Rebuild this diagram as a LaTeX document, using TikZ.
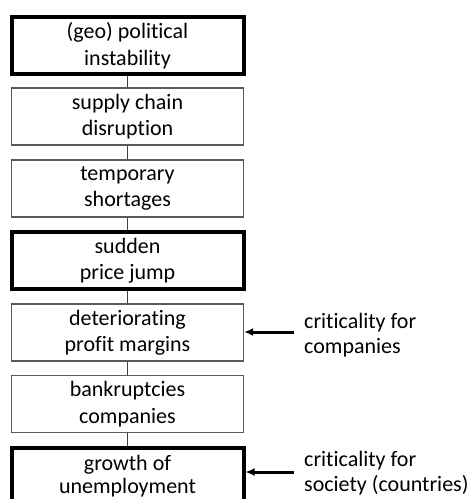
\documentclass[tikz,border=0pt]{standalone}
\usepackage{fontspec}
\setmainfont{Carlito}[Ligatures=NoCommon]
\usepackage{tikz}
\usetikzlibrary{arrows.meta}

\definecolor{boxgray}{HTML}{5A5A5A}
\definecolor{linkgray}{HTML}{404040}

\begin{document}
\begin{tikzpicture}[x=1pt, y=-1pt,
	every node/.style={font=\fontsize{22}{26.5}\selectfont},
	step box/.style={shape=rectangle, draw=boxgray, line width=1.3pt, align=center,
		minimum width=232pt, minimum height=57pt, inner sep=0pt},
	key box/.style={step box, draw=black, line width=4pt},
	link/.style={-, draw=linkgray, line width=1.8pt},
	crit arrow/.style={-{Latex[length=9pt,width=8pt]}, draw=black, line width=3pt},
	crit text/.style={anchor=west, align=left, inner sep=0pt,
		font=\fontsize{22}{25}\selectfont}]
	
	\clip (0, 0) rectangle (471, 499);
	
	\node[key box]  (b1) at (127.5, 45.5)  {(geo) political\\instability};
	\node[step box] (b2) at (127.5, 116.5) {supply chain\\disruption};
	\node[step box] (b3) at (127.5, 188.5) {temporary\\shortages};
	\node[key box]  (b4) at (127.5, 260.5) {sudden\\price jump};
	\node[step box] (b5) at (127.5, 332.5) {deteriorating\\profit margins};
	\node[step box] (b6) at (127.5, 404)   {bankruptcies\\companies};
	\node[key box, font=\fontsize{22}{23}\selectfont] (b7) at (127.5, 476.5) {growth of\\unemployment};
	
	\path[link] (b1) edge (b2);
	\path[link] (b2) edge (b3);
	\path[link] (b3) edge (b4);
	\path[link] (b4) edge (b5);
	\path[link] (b5) edge (b6);
	\path[link] (b6) edge (b7);
	
	\node[crit text] (c1) at (304, 335) {criticality for\\companies};
	\node[crit text] (c2) at (304, 473) {criticality for\\society (countries)};
	
	\coordinate (t1) at (294, 332);
	\coordinate (t2) at (294, 472);
	\draw[crit arrow] (t1) -- (b5.east |- t1);
	\draw[crit arrow] (t2) -- (b7.east |- t2);
	
\end{tikzpicture}
\end{document}
